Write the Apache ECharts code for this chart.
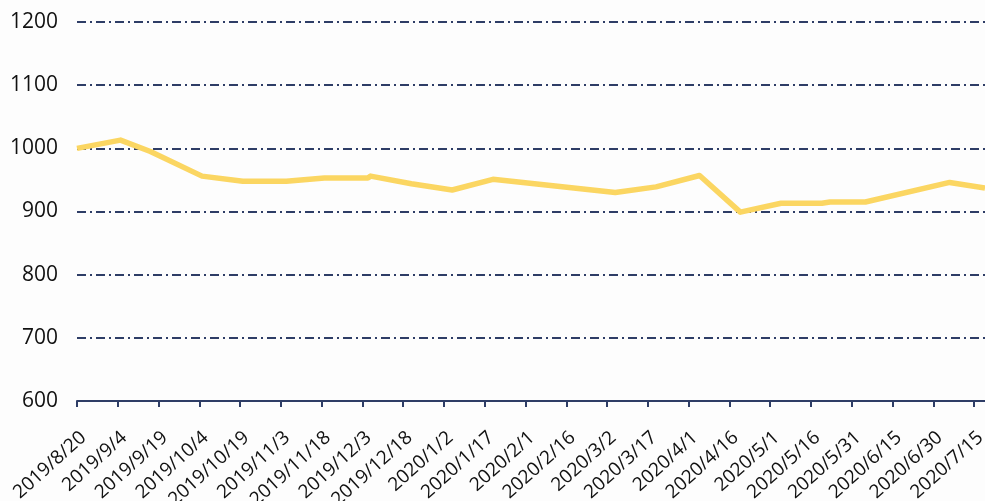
<!DOCTYPE html>
<html>
<head>
<meta charset="utf-8">
<script src="https://cdn.jsdelivr.net/npm/echarts@6/dist/echarts.min.js"></script>
<style>
  html, body { margin: 0; padding: 0; background: #fdfdfd; }
  #chart { width: 985px; height: 501px; }
</style>
</head>
<body>
<div id="chart"></div>
<script>
// dates of the points and their values
var dates = ['2019/8/20', '2019/9/5', '2019/9/16', '2019/10/5', '2019/10/20', '2019/11/5',
  '2019/11/19', '2019/12/5', '2019/12/6', '2019/12/21', '2020/1/5', '2020/1/20',
  '2020/3/5', '2020/3/20', '2020/4/5', '2020/4/20', '2020/5/5', '2020/5/20',
  '2020/5/23', '2020/6/5', '2020/7/6', '2020/7/19'];
var prices = [1000, 1013, 995, 956, 948, 948, 953, 953, 956, 944, 934, 951,
  930, 939, 957, 899, 913, 913, 915, 915, 946, 937];

// axis labels every 15 days
var tickDates = ['2019/8/20', '2019/9/4', '2019/9/19', '2019/10/4', '2019/10/19', '2019/11/3',
  '2019/11/18', '2019/12/3', '2019/12/18', '2020/1/2', '2020/1/17', '2020/2/1', '2020/2/16',
  '2020/3/2', '2020/3/17', '2020/4/1', '2020/4/16', '2020/5/1', '2020/5/16', '2020/5/31',
  '2020/6/15', '2020/6/30', '2020/7/15'];
var endDate = '2020/7/19';

function toUTC(s) {
  var p = s.split('/');
  return Date.UTC(+p[0], +p[1] - 1, +p[2]);
}
var start = toUTC(dates[0]);
function dayOf(s) {
  return Math.round((toUTC(s) - start) / 86400000);
}

var labelMap = {};
var tickDays = tickDates.map(function (d) {
  var n = dayOf(d);
  labelMap[n] = d;
  return n;
});

var seriesData = dates.map(function (d, i) {
  return [dayOf(d), prices[i]];
});

var chart = echarts.init(document.getElementById('chart'));

var option = {
  backgroundColor: '#fdfdfd',
  animation: false,
  grid: {
    left: 77,
    right: 0,
    top: 22,
    bottom: 100,
    containLabel: false,
    outerBoundsMode: 'none'
  },
  xAxis: {
    type: 'value',
    min: 0,
    max: dayOf(endDate),
    interval: 15,
    axisLine: { lineStyle: { color: '#2e3d66', width: 2 } },
    axisTick: {
      customValues: tickDays,
      length: 6,
      lineStyle: { color: '#2e3d66', width: 2 }
    },
    splitLine: { show: false },
    axisLabel: {
      customValues: tickDays,
      rotate: 42,
      margin: 27,
      verticalAlign: 'top',
      color: '#111',
      fontFamily: 'Open Sans',
      fontSize: 19,
      formatter: function (v) {
        return labelMap[v] || '';
      }
    }
  },
  yAxis: {
    type: 'value',
    min: 600,
    max: 1200,
    interval: 100,
    axisLine: { show: false },
    axisTick: { show: false },
    axisLabel: {
      color: '#111',
      fontFamily: 'Open Sans',
      fontSize: 21,
      margin: 19,
      formatter: function (v) { return String(v); }
    },
    splitLine: {
      lineStyle: {
        color: '#2e3d66',
        width: 2,
        type: [9, 4, 2, 4]
      }
    }
  },
  series: [{
    type: 'line',
    data: seriesData,
    showSymbol: false,
    smooth: false,
    lineStyle: { color: '#fbd662', width: 5.5, join: 'round' },
    itemStyle: { color: '#fbd662' }
  }]
};

chart.setOption(option);
</script>
</body>
</html>
